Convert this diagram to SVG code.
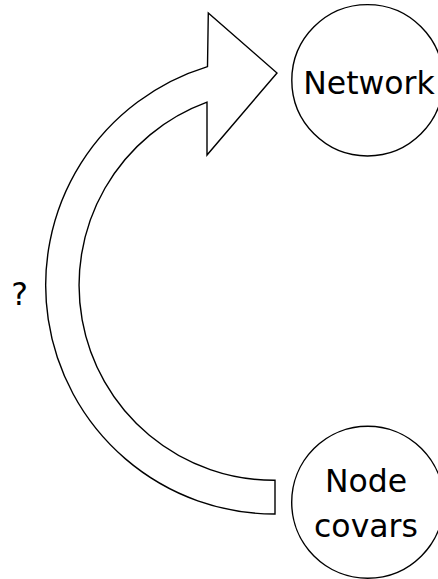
<svg xmlns="http://www.w3.org/2000/svg" width="438" height="579" viewBox="0 0 438 579">
<style>
.shape{fill:#fff;stroke:#000;stroke-width:1.4;stroke-linejoin:miter}
.lbl{font-family:"DejaVu Sans",sans-serif;font-size:31.5px;fill:#000;text-anchor:middle}
</style>
<rect width="438" height="579" fill="#fff"/>
<g id="connectors">
<path class="shape" d="M275,514 A228.7,228.7 0 0 1 207.5,66.6 L208.3,13 L277,73 L207,155 L207,102.2 A195,195 0 0 0 275,480.3 Z"/>
<text class="lbl" x="19.5" y="305">?</text>
</g>
<g id="network">
<circle class="shape" cx="367.5" cy="80.3" r="75.7"/>
<text class="lbl" x="369" y="94">Network</text>
</g>
<g id="nodecovars">
<circle class="shape" cx="367.7" cy="502.2" r="76"/>
<text class="lbl" x="366" y="492">Node</text>
<text class="lbl" x="366" y="537">covars</text>
</g>
</svg>
